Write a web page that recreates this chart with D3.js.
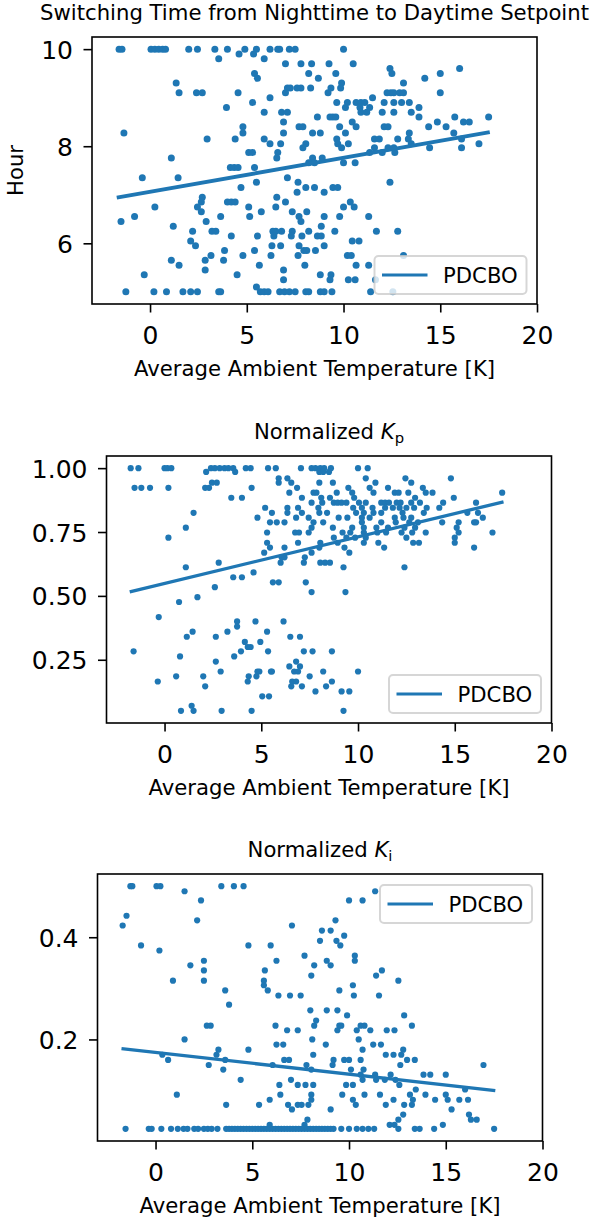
<!DOCTYPE html>
<html>
<head>
<meta charset="utf-8">
<script src="https://cdn.jsdelivr.net/npm/d3@7"></script>
<style>
  body { margin: 0; background: #fff; }
  text { font-family: "DejaVu Sans", sans-serif; }
</style>
</head>
<body>
<svg id="chart" width="592" height="1222"></svg>
<script>
// x ticks shared by all three panels
const xTicks = [0, 5, 10, 15, 20];
const xDomain = [-3, 20];

// Switching hour: each row is [hour, [ambient temperatures]]
const hourRows = [
  [10.0, [-1.6, -1.45, 0.05, 0.25, 0.45, 0.65, 0.8, 2.0, 2.45, 3.35, 4.0, 4.9, 5.5, 6.2, 6.6, 6.7, 7.2, 7.5, 10.0]],
  [9.9, [4.6, 5.35]],
  [9.8, [3.55, 5.9]],
  [9.7, [7.0, 7.8, 8.35, 9.25, 10.5]],
  [9.6, [12.4, 16.0]],
  [9.5, [5.4, 8.2, 9.6, 12.5, 15.0]],
  [9.4, [5.55, 8.7, 14.2]],
  [9.3, [1.35, 9.9, 13.1]],
  [9.2, [7.1, 7.25, 7.6, 7.8, 8.3, 9.35, 9.85]],
  [9.1, [1.5, 2.4, 2.7, 4.55, 7.0, 9.2, 12.25, 12.45, 12.6, 12.9, 13.1, 15.0]],
  [9.0, [6.2, 11.5]],
  [8.9, [5.3, 9.65, 10.2, 10.65, 10.9, 11.1, 12.1, 12.6, 13.0, 13.4]],
  [8.8, [3.95, 10.1, 10.85, 11.35, 13.9]],
  [8.7, [5.9, 6.8, 7.1, 10.9, 11.2, 12.0, 12.6, 13.5]],
  [8.6, [8.65, 9.3, 9.45, 9.6, 13.9, 15.75, 17.5]],
  [8.5, [6.9, 10.45, 14.85, 16.2, 16.5]],
  [8.4, [4.8, 7.7, 7.9, 9.8, 10.65, 12.1, 12.3, 14.4, 15.3]],
  [8.27, [-1.35, 4.8, 6.9, 8.4, 8.8, 10.1, 13.4, 15.7]],
  [8.15, [2.95, 4.4, 5.9, 9.65, 11.6, 11.85, 12.8, 13.35, 16.1]],
  [8.05, [6.2, 6.75, 8.05, 9.7, 10.25, 13.5, 17.0]],
  [7.97, [7.9, 9.9, 11.6, 12.3, 12.6, 14.45, 16.1]],
  [7.87, [5.1, 5.3, 6.6, 11.35, 12.0, 12.65]],
  [7.76, [1.1, 6.55, 8.4, 8.9]],
  [7.66, [8.2, 8.5, 10.0, 10.6]],
  [7.56, [4.15, 4.35, 4.55, 5.4]],
  [7.35, [-0.4, 1.45, 7.1]],
  [7.26, [5.5, 7.65, 12.4]],
  [7.15, [4.7, 8.05, 8.5, 9.45, 9.7]],
  [7.05, [7.6, 9.0]],
  [6.95, [2.7, 6.55]],
  [6.85, [2.65, 4.0, 4.2, 4.4, 7.0, 10.35]],
  [6.75, [0.25, 2.45, 5.1, 6.5, 10.0, 10.55]],
  [6.65, [2.65, 5.75, 7.35, 8.1]],
  [6.55, [-0.8, 3.65, 5.15, 7.7, 9.0, 9.8, 11.3]],
  [6.45, [-1.5, 2.9, 7.8]],
  [6.35, [1.2, 8.85]],
  [6.25, [2.2, 3.2, 3.4, 6.35, 6.5, 6.8, 7.35, 8.2, 9.55, 11.7, 12.8]],
  [6.15, [4.2, 5.55, 6.4, 7.3, 7.85, 8.65, 8.85]],
  [6.05, [2.1, 10.45, 10.8]],
  [5.95, [2.35, 6.3, 6.75, 7.7, 9.0]],
  [5.85, [3.85, 5.4, 7.95, 8.1, 8.55]],
  [5.75, [3.15, 4.8, 6.25, 7.65, 10.2, 10.4, 13.1]],
  [5.65, [1.1, 2.85, 3.8]],
  [5.55, [1.5, 5.65, 8.0, 10.65, 11.3]],
  [5.45, [2.85, 6.9]],
  [5.35, [-0.3, 4.5, 8.8, 9.35]],
  [5.25, [6.9, 9.3, 10.25, 10.6, 11.65]],
  [5.1, [5.5]],
  [5.0, [-1.25, 0.2, 0.85, 1.7, 2.1, 2.45, 3.55, 3.65, 5.7, 5.9, 6.1, 6.7, 6.95, 7.2, 7.5, 8.05, 8.2, 8.8, 9.0, 9.4, 11.4, 12.55]]
];

// Normalized Kp: [kp, [ambient temperatures]]
const kpRows = [
  [1.0, [-1.75, -1.35, 0.0, 0.15, 0.35, 2.4, 2.6, 2.85, 3.1, 3.3, 3.55, 4.2, 4.45, 5.35, 5.75, 7.05, 7.6, 7.8, 8.05, 8.25, 8.6, 10.0, 10.5]],
  [0.985, [2.15, 3.65, 8.0, 8.2, 8.5]],
  [0.96, [5.9, 6.35, 10.4, 12.45, 14.8]],
  [0.943, [2.45, 2.7, 5.9, 6.55, 8.0, 8.7, 10.9, 12.75]],
  [0.923, [-1.55, -1.2, -0.75, 0.2, 2.1, 2.3, 4.5, 6.85, 9.5, 10.6, 11.55, 13.35]],
  [0.904, [6.45, 7.7, 7.85, 8.9, 9.7, 10.8, 11.9, 12.1, 12.6, 13.5, 13.85, 17.45]],
  [0.884, [3.45, 4.0, 7.1, 8.1, 8.55, 9.8, 12.95, 14.95]],
  [0.865, [7.6, 8.15, 8.75, 8.95, 9.15, 9.4, 10.05, 10.4, 11.2, 11.4, 11.6, 12.0, 12.2, 12.75, 13.2, 14.4, 16.1]],
  [0.845, [5.2, 6.35, 6.9, 7.95, 9.75, 10.2, 10.75, 11.4, 11.8, 12.15, 12.5, 12.9, 13.55, 14.2]],
  [0.825, [1.5, 5.55, 6.35, 7.1, 8.0, 8.4, 9.9, 10.3, 10.8, 11.2, 12.3, 13.4, 15.65, 16.2]],
  [0.806, [4.8, 6.8, 7.45, 9.0, 9.45, 10.2, 10.6, 11.9, 12.35, 12.75, 16.45]],
  [0.788, [5.45, 5.8, 6.2, 7.7, 8.2, 10.2, 11.2, 11.95, 12.65, 13.1, 14.35, 15.2, 16.0, 16.1]],
  [0.767, [1.1, 7.6, 8.7, 9.7, 10.3, 10.95, 11.55, 12.4, 12.95, 15.1]],
  [0.748, [5.3, 6.75, 6.95, 7.45, 9.2, 9.6, 10.3, 11.0, 11.45, 12.25, 12.8, 13.5, 15.2, 16.95]],
  [0.728, [0.2, 8.75, 9.4, 9.85, 10.4, 12.5, 15.0]],
  [0.708, [5.3, 6.9, 8.05, 8.95, 10.3, 11.05, 12.85, 13.15, 15.0]],
  [0.689, [5.45, 6.2, 8.0, 9.3, 11.35, 16.0]],
  [0.669, [5.15, 7.6, 9.55]],
  [0.651, [6.05, 6.2, 7.25]],
  [0.63, [2.8, 6.0, 7.2, 8.05, 8.3, 8.55]],
  [0.612, [1.1, 9.25, 12.4]],
  [0.592, [4.6]],
  [0.573, [3.55, 4.0]],
  [0.553, [5.6, 5.9, 7.3]],
  [0.534, [2.6]],
  [0.515, [7.6, 9.35]],
  [0.495, [1.7]],
  [0.476, [0.75]],
  [0.417, [-0.3]],
  [0.40, [3.75, 4.7, 6.15]],
  [0.38, [3.75]],
  [0.36, [1.45, 3.25, 5.3]],
  [0.34, [1.15, 2.65, 6.5, 7.0]],
  [0.32, [4.15, 4.95]],
  [0.30, [4.3, 4.45]],
  [0.283, [-1.6, 3.95, 5.35, 7.2, 7.65, 8.65]],
  [0.263, [0.8, 3.6]],
  [0.243, [2.65, 6.8]],
  [0.224, [6.45, 7.0]],
  [0.204, [2.9, 4.8, 4.9, 5.5, 5.55, 6.7, 6.9, 8.2, 10.0]],
  [0.185, [0.6, 2.0, 4.35, 4.75, 7.5]],
  [0.165, [-0.35, 4.3, 6.6, 6.8, 8.65]],
  [0.146, [2.1, 6.55, 7.1, 8.35]],
  [0.126, [7.8, 9.15, 9.55]],
  [0.107, [5.05, 5.4]],
  [0.07, [1.4]],
  [0.05, [0.85, 1.5, 2.95, 4.5, 9.25]]
];

// Normalized Ki: [ki, [ambient temperatures]]
const kiRows = [
  [0.50, [-1.3, -1.2, 0.05, 0.25, 3.4, 4.05, 4.55]],
  [0.49, [1.5, 11.35]],
  [0.472, [2.35, 10.0, 10.7]],
  [0.442, [-1.5]],
  [0.433, [2.15, 9.3]],
  [0.423, [-1.7, 7.05]],
  [0.413, [8.6, 9.05]],
  [0.403, [9.75]],
  [0.393, [8.5, 9.35]],
  [0.384, [-0.75, 4.8, 5.95, 9.55]],
  [0.374, [0.2]],
  [0.364, [7.7, 10.3]],
  [0.354, [2.5, 6.25, 8.85, 10.3]],
  [0.345, [1.8, 8.2, 9.05]],
  [0.335, [2.5, 5.65, 11.7]],
  [0.325, [8.05, 11.4]],
  [0.315, [0.9, 2.5, 5.6, 12.55]],
  [0.306, [5.6, 10.2]],
  [0.296, [3.6, 5.8, 9.5]],
  [0.286, [6.35, 6.95, 7.5, 10.25, 11.55]],
  [0.268, [3.8]],
  [0.257, [8.0, 8.85, 9.4]],
  [0.247, [9.9, 12.85]],
  [0.237, [8.3]],
  [0.227, [2.65, 2.85, 6.2, 8.2, 9.5, 9.6, 10.6, 10.8, 13.25]],
  [0.218, [6.8, 7.35, 9.4, 10.4, 11.1, 11.95, 12.35]],
  [0.20, [1.5, 8.1, 10.5]],
  [0.19, [6.25, 6.6, 8.8, 11.25, 11.65]],
  [0.18, [3.25, 4.8, 10.7, 12.8]],
  [0.17, [0.35, 3.15, 8.15, 11.9, 12.3, 12.7]],
  [0.16, [0.65, 3.6, 6.65, 6.9, 9.2, 9.75, 10.0, 10.6, 13.0, 13.4]],
  [0.15, [2.75, 6.05, 7.8, 9.15, 12.65, 16.95]],
  [0.141, [3.5, 8.05, 10.1, 10.75]],
  [0.131, [10.6, 11.35, 12.15, 13.85, 14.2, 15.0]],
  [0.121, [4.4, 7.0, 10.7, 11.4, 11.85, 12.4]],
  [0.111, [6.4, 7.35, 7.75, 8.15, 9.85, 10.2, 12.6]],
  [0.102, [13.45, 16.0]],
  [0.092, [1.1, 6.45, 8.05, 9.65, 10.8, 11.6, 13.15, 13.95, 15.0]],
  [0.082, [5.9, 8.05, 10.2, 12.3, 13.3, 14.45, 15.1, 15.7, 16.15]],
  [0.072, [3.65, 5.35, 6.85, 7.35, 7.55, 7.9, 10.35, 11.9, 12.85, 13.25]],
  [0.063, [7.05, 9.05, 15.3]],
  [0.053, [12.8, 16.2]],
  [0.043, [7.85, 12.55, 16.3, 16.6]],
  [0.033, [5.9, 7.7, 12.1, 12.35, 14.85]],
  [0.025, [-1.55, -0.35, -0.2, 0.3, 0.8, 1.15, 1.45, 1.65, 2.0, 2.2, 2.5, 2.7, 2.9, 3.2, 3.65, 3.8, 3.95,
           4.1, 4.25, 4.4, 4.55, 4.7, 4.85, 5.0, 5.15, 5.3, 5.45, 5.6, 5.75, 5.9, 6.05, 6.2, 6.35, 6.5,
           6.65, 6.8, 6.95, 7.1, 7.25, 7.4, 7.55, 7.7, 7.85, 8.0, 8.15, 8.3, 8.45, 8.6, 8.75, 8.9, 9.05,
           9.2, 9.6, 10.0, 10.4, 10.7, 11.0, 11.3, 12.55, 13.4, 13.65, 14.4, 17.5]]
];

// PDCBO linear fits (end points in data units)
const hourFit = [[-1.72, 6.94], [17.56, 8.29]];
const kpFit = [[-1.8, 0.516], [17.52, 0.868]];
const kiFit = [[-1.76, 0.182], [17.56, 0.100]];

const hourTicks = [6, 8, 10];
const kpTicks = [0.25, 0.5, 0.75, 1.0];
const kiTicks = [0.2, 0.4];

const blue = '#1f77b4';
const W = 445, H = 267;
const svg = d3.select('#chart');

const panels = [
  { rows: hourRows, fit: hourFit, yDomain: [4.75, 10.25], yTicks: hourTicks, fmt: d3.format('d'),
    left: 92, top: 37, r: 3.5, lw: 3.9, legend: 'lower', ylabel: 'Hour',
    title: ['Switching Time from Nighttime to Daytime Setpoint'] },
  { rows: kpRows, fit: kpFit, yDomain: [0.0025, 1.0475], yTicks: kpTicks, fmt: d3.format('.2f'),
    left: 106.5, top: 456, r: 3.1, lw: 3.3, legend: 'lower',
    title: ['Normalized ', 'K', 'p'] },
  { rows: kiRows, fit: kiFit, yDomain: [0.00125, 0.52375], yTicks: kiTicks, fmt: d3.format('.1f'),
    left: 97.5, top: 874, r: 3.1, lw: 3.3, legend: 'upper',
    title: ['Normalized ', 'K', 'i'] }
];

panels.forEach(p => {
  const g = svg.append('g').attr('transform', `translate(${p.left},${p.top})`);
  const x = d3.scaleLinear().domain(xDomain).range([0, W]);
  const y = d3.scaleLinear().domain(p.yDomain).range([H, 0]);

  // scatter
  const pts = p.rows.flatMap(([yv, xs]) => xs.map(xv => [xv, yv]));
  g.append('g').selectAll('circle')
    .data(pts)
    .join('circle')
    .attr('cx', d => x(d[0]))
    .attr('cy', d => y(d[1]))
    .attr('r', p.r)
    .attr('fill', blue);

  // fit line
  g.append('path')
    .datum(p.fit)
    .attr('d', d3.line().x(d => x(d[0])).y(d => y(d[1])))
    .attr('fill', 'none')
    .attr('stroke', blue)
    .attr('stroke-width', p.lw);

  // axes
  const xAxis = g.append('g')
    .attr('transform', `translate(0,${H})`)
    .call(d3.axisBottom(x).tickValues(xTicks).tickSize(8.5).tickPadding(13.5).tickSizeOuter(0));
  const yAxis = g.append('g')
    .call(d3.axisLeft(y).tickValues(p.yTicks).tickFormat(p.fmt).tickSize(8.5).tickPadding(10.5).tickSizeOuter(0));
  [xAxis, yAxis].forEach(a => {
    a.attr('font-size', 25).attr('font-family', '"DejaVu Sans", sans-serif');
    a.select('.domain').remove();
    a.selectAll('.tick line').attr('stroke-width', 1.6);
  });
  yAxis.selectAll('.tick text').attr('dy', '0.36em');

  // frame
  g.append('rect')
    .attr('width', W).attr('height', H)
    .attr('fill', 'none').attr('stroke', '#000').attr('stroke-width', 1.6);

  // title
  const t = g.append('text')
    .attr('x', W / 2).attr('y', -17)
    .attr('text-anchor', 'middle')
    .attr('font-size', 21.2);
  t.append('tspan').text(p.title[0]);
  if (p.title.length > 1) {
    t.append('tspan').attr('font-style', 'italic').text(p.title[1]);
    t.append('tspan').attr('font-size', 14.8).attr('dy', 4).text(p.title[2]);
  }

  // x label
  g.append('text')
    .attr('x', W / 2).attr('y', H + 72)
    .attr('text-anchor', 'middle')
    .attr('font-size', 21.2)
    .text('Average Ambient Temperature [K]');

  if (p.ylabel) {
    g.append('text')
      .attr('transform', `translate(${23 - p.left},${H / 2}) rotate(-90)`)
      .attr('text-anchor', 'middle')
      .attr('font-size', 21.2)
      .text(p.ylabel);
  }

  // legend
  const lw = 152, lh = 38;
  const lx = W - 10.5 - lw;
  const ly = p.legend === 'lower' ? H - 10 - lh : 11;
  const leg = g.append('g').attr('transform', `translate(${lx},${ly})`);
  leg.append('rect')
    .attr('width', lw).attr('height', lh).attr('rx', 4)
    .attr('fill', '#fff').attr('fill-opacity', 0.8)
    .attr('stroke', '#cccccc').attr('stroke-opacity', 0.8).attr('stroke-width', 2);
  leg.append('line')
    .attr('x1', 7.5).attr('x2', 53).attr('y1', lh / 2).attr('y2', lh / 2)
    .attr('stroke', blue).attr('stroke-width', 3.2);
  leg.append('text')
    .attr('x', 68.5).attr('y', lh / 2 + 7.5)
    .attr('font-size', 21.2)
    .text('PDCBO');
});
</script>
</body>
</html>
